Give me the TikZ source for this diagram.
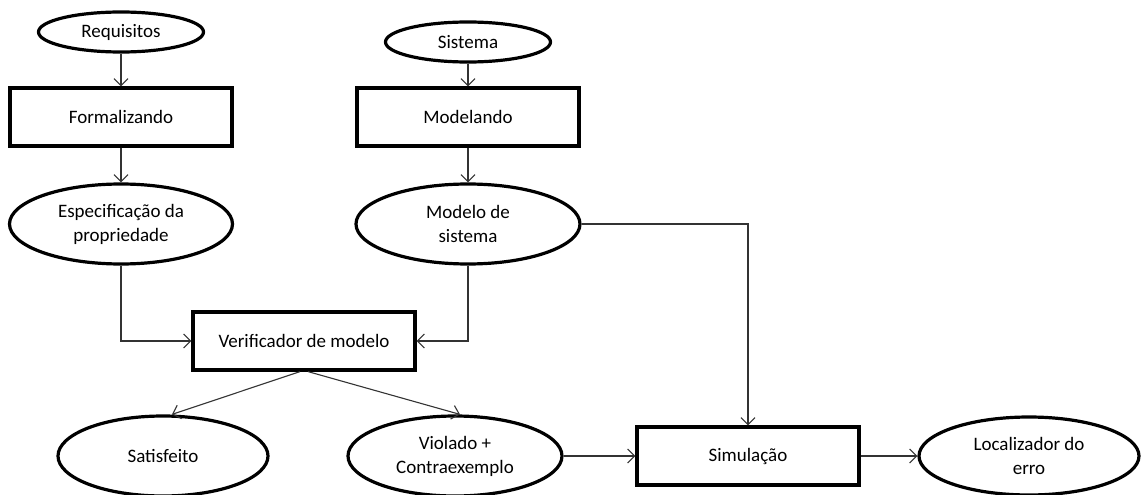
\documentclass[tikz,border=0pt]{standalone}
\usepackage{fontspec}
\setmainfont{Carlito}
\usetikzlibrary{shapes.geometric,arrows.meta}
\begin{document}
\begin{tikzpicture}[x=1pt,y=-1pt,
  label text/.style={font=\fontsize{19}{24}\selectfont, align=center},
  box/.style={draw, line width=3.2pt, minimum width=222pt, minimum height=58pt,
    inner sep=0pt, label text},
  oval/.style={draw, ellipse, line width=3.2pt, inner sep=0pt, label text},
  link/.style={draw=black!80, line width=1.1pt,
    -{Straight Barb[length=7pt,width=14pt]}}]
\useasboundingbox (0,0) rectangle (1141,495);

% left column: requirements
\node[oval, minimum width=165pt, minimum height=40pt] (req) at (121,32) {Requisitos};
\node[box] (form) at (121,117) {Formalizando};
\node[oval, minimum width=223pt, minimum height=80pt] (spec) at (121,224) {Especificação da\\propriedade};

% middle column: system
\node[oval, minimum width=165pt, minimum height=40pt] (sis) at (468,42) {Sistema};
\node[box] (mod) at (468,117) {Modelando};
\node[oval, minimum width=224pt, minimum height=80pt] (msis) at (468,224) {Modelo de\\sistema};

% checker and its outcomes
\node[box] (ver) at (304,341) {Verificador de modelo};
\node[oval, minimum width=210pt, minimum height=80pt] (sat) at (163,456) {Satisfeito};
\node[oval, minimum width=214pt, minimum height=80pt] (vio) at (455,456) {Violado +\\Contraexemplo};
\node[box] (sim) at (748,456) {Simulação};
\node[oval, minimum width=220pt, minimum height=78pt] (loc) at (1029,456) {Localizador do\\erro};

% connectors
\draw[link] (req) -- (form);
\draw[link] (form) -- (spec);
\draw[link] (sis) -- (mod);
\draw[link] (mod) -- (msis);
\draw[link] (spec.south) |- (ver.west);
\draw[link] (msis.south) |- (ver.east);
\draw[link] (msis.east) -| (sim.north);
\draw[link] ([xshift=-4pt]ver.south) -- ([xshift=9pt]sat.north);
\draw[link] ([xshift=4pt]ver.south) -- ([xshift=5pt]vio.north);
\draw[link] (vio) -- (sim);
\draw[link] (sim) -- (loc);
\end{tikzpicture}
\end{document}
